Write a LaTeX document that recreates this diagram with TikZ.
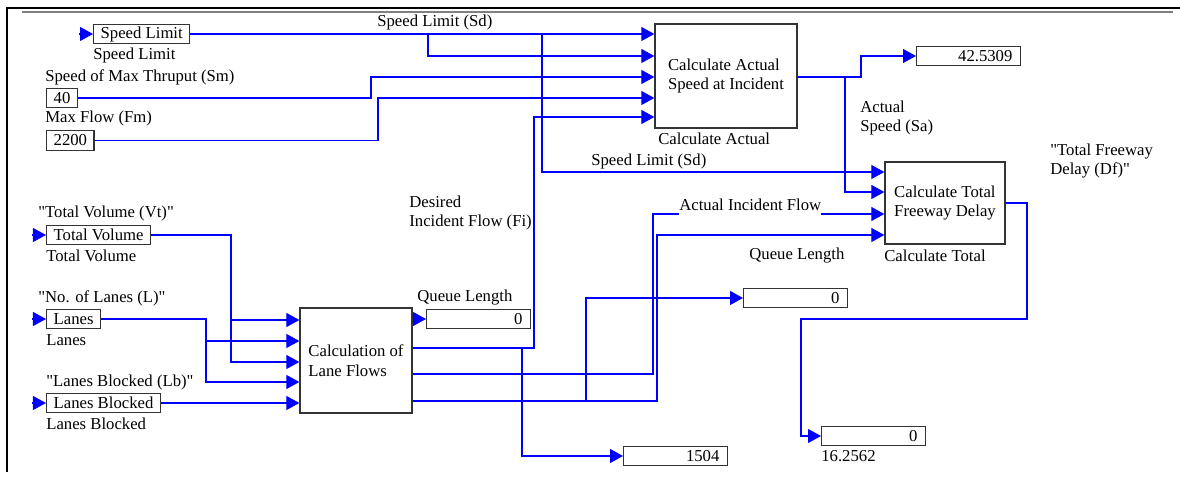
\documentclass[tikz,border=0pt]{standalone}
\usepackage{fontspec}
\setmainfont{Liberation Serif}
\newfontfamily\qtfont{Liberation Serif}
\usepackage{tikz}
\usetikzlibrary{arrows.meta,calc}
\newcommand{\dq}{{\qtfont\symbol{34}}}
\tikzset{
  vsblock/.style = {rectangle, draw=black!80, line width=0.75pt, fill=white,
                    align=left, inner sep=0pt},
  vsvar/.style   = {rectangle, draw=black!80, line width=0.75pt, anchor=west,
                    inner xsep=4pt, inner ysep=0pt, minimum height=3.9mm},
  vsdisp/.style  = {rectangle, draw=black!80, line width=0.75pt, anchor=west,
                    inner xsep=4.5pt, inner ysep=0pt, minimum height=3.9mm,
                    text width=50pt, align=right},
  vswire/.style  = {draw=blue, line width=0.6pt,
                    -{Triangle[length=2.6mm,width=2.8mm]}},
  vslbl/.style   = {anchor=west, inner sep=0pt, align=left},
}

\begin{document}
\begin{tikzpicture}[x=0.2mm, y=-0.2mm, font=\fontsize{9.5}{11.3}\selectfont]
  \useasboundingbox (0,0) rectangle (1180,480);
  \draw[line width=1.7pt] (7,472) -- (7,8) -- (1180,8);
  \draw[black!50, line width=0.6pt] (22,12) -- (1173,12);

  \node[vsblock, minimum width=28.4mm, minimum height=20.8mm] (calcact)  at (726,76)    {Calculate Actual\\Speed at Incident};
  \node[vsblock, minimum width=24mm,   minimum height=16.4mm] (calctot)  at (945,203)   {Calculate Total\\Freeway Delay};
  \node[vsblock, minimum width=22.4mm, minimum height=21mm]   (laneflow) at (356,360.5) {Calculation of\\Lane Flows};

  \node[vsvar] (spdlim) at (93,34)    {Speed Limit};
  \node[vsvar] (sm)     at (46,98)    {40};
  \node[vsvar] (fm)     at (46,140.5) {2200};
  \node[vsvar] (totvol) at (46,235)   {Total Volume};
  \node[vsvar] (lanes)  at (46,319)   {Lanes};
  \node[vsvar] (lblk)   at (46,403)   {Lanes Blocked};

  \node[vsdisp] (qdisp1) at (426,319) {0};
  \node[vsdisp] (fidisp) at (623,456) {1504};
  \node[vsdisp] (qdisp2) at (743,298) {0};
  \node[vsdisp] (sadisp) at (916,56)  {42.5309};
  \node[vsdisp] (dfdisp) at (821,436) {0};

  \foreach \n/\y in {1/34,2/56,3/77,4/98,5/117}
    \coordinate (ca\n) at (calcact.west |- 0,\y);
  \foreach \n/\y in {1/172,2/192,3/214,4/235}
    \coordinate (ct\n) at (calctot.west |- 0,\y);
  \foreach \n/\y in {1/320,2/341,3/362,4/382,5/403}
    \coordinate (lfi\n) at (laneflow.west |- 0,\y);
  \foreach \n/\y in {1/319,2/348,3/374,4/401}
    \coordinate (lfo\n) at (laneflow.east |- 0,\y);
  \coordinate (caout) at (calcact.east |- 0,77);
  \coordinate (ctout) at (calctot.east |- 0,203);
  \coordinate (sdA) at (428,34);
  \coordinate (sdB) at (542,34);
  \coordinate (saA) at (845,77);
  \coordinate (fiA) at (522,348);
  \coordinate (qlA) at (586,401);
  \coordinate (vtA) at (231,320);
  \coordinate (lA)  at (206,341);

  \foreach \v in {spdlim,totvol,lanes,lblk}
    \draw[vswire] ($(\v.west)+(-14,0)$) -- (\v.west);
  \draw[vswire] (spdlim.east) -- (ca1);
  \draw[vswire] (sdA) |- (ca2);
  \draw[vswire] (sdB) |- (ct1);
  \draw[vswire] (sm.east) -| (371,77) -- (ca3);
  \draw[vswire] (fm.east) -| (378,98) -- (ca4);
  \draw[vswire] (lfo2) -| (534,117) -- (ca5);
  \draw[vswire] (fiA) |- (fidisp.west);
  \draw[vswire] (caout) -| (861,56) -- (sadisp.west);
  \draw[vswire] (saA) |- (ct2);
  \draw[vswire] (lfo3) -| (653,214) -- (ct3);
  \draw[vswire] (lfo4) -| (657,235) -- (ct4);
  \draw[vswire] (qlA) |- (qdisp2.west);
  \draw[vswire] (lfo1) -- (qdisp1.west);
  \draw[vswire] (ctout) -| (1027,319) -| (801,436) -- (dfdisp.west);
  \draw[vswire] (totvol.east) -| (231,362) -- (lfi3);
  \draw[vswire] (vtA) -- (lfi1);
  \draw[vswire] (lanes.east) -| (206,382) -- (lfi4);
  \draw[vswire] (lA) -- (lfi2);
  \draw[vswire] (lblk.east) -- (lfi5);

  \node[vslbl] (lsd1)  at (377,22)  {Speed Limit (Sd)};
  \node[vslbl] (lspd)  at (93,55)   {Speed Limit};
  \node[vslbl] (lsm)   at (45,77)   {Speed of Max Thruput (Sm)};
  \node[vslbl] (lfm)   at (45,118)  {Max Flow (Fm)};
  \node[vslbl] (lca)   at (658,139) {Calculate Actual};
  \node[vslbl] (lsd2)  at (591,161) {Speed Limit (Sd)};
  \node[vslbl] (lsa)   at (860,118) {Actual\\Speed (Sa)};
  \node[vslbl] (ldf)   at (1050,161) {\dq Total Freeway\\Delay (Df)\dq};
  \node[vslbl] (lfi)   at (409,213) {Desired\\Incident Flow (Fi)};
  \node[vslbl, fill=white, inner ysep=3pt] (laif) at (679,205) {Actual Incident Flow};
  \node[vslbl] (lql1)  at (417,298) {Queue Length};
  \node[vslbl] (lql2)  at (749,256) {Queue Length};
  \node[vslbl] (lct)   at (884,256) {Calculate Total};
  \node[vslbl] (ldfv)  at (821,456) {16.2562};
  \node[vslbl] (lvtq)  at (38,213)  {\dq Total Volume (Vt)\dq};
  \node[vslbl] (lvt)   at (46,256)  {Total Volume};
  \node[vslbl] (llq)   at (38,298)  {\dq No. of Lanes (L)\dq};
  \node[vslbl] (ll)    at (46,340)  {Lanes};
  \node[vslbl] (llbq)  at (46,382)  {\dq Lanes Blocked (Lb)\dq};
  \node[vslbl] (llb)   at (46,424)  {Lanes Blocked};
\end{tikzpicture}
\end{document}
